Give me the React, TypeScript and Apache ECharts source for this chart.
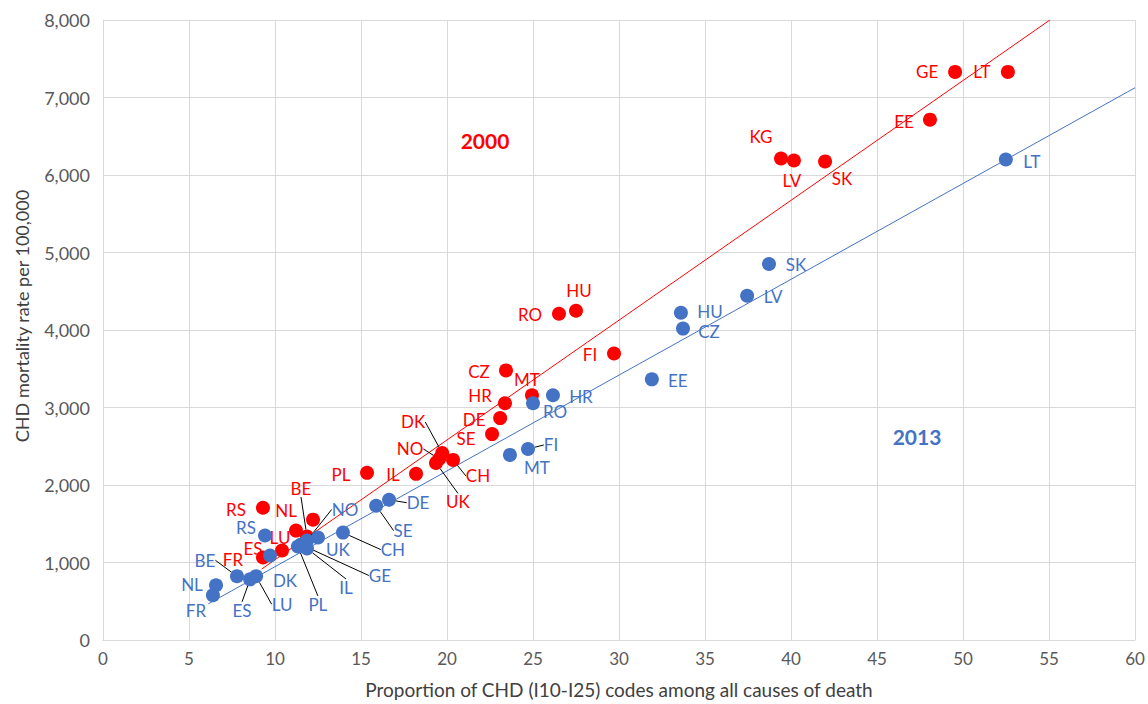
import React, { useEffect, useRef } from "react";
import * as echarts from "echarts";

// ---- data ----
const xTicks = [0, 5, 10, 15, 20, 25, 30, 35, 40, 45, 50, 55, 60];
const yTicks = [0, 1000, 2000, 3000, 4000, 5000, 6000, 7000, 8000];

const countries2000 = ["GE", "LT", "EE", "KG", "LV", "SK", "HU", "RO", "FI", "CZ", "MT", "HR", "DE", "SE", "DK", "NO", "UK", "CH", "PL", "IL", "BE", "NL", "LU", "ES", "FR", "RS"];
const share2000 = [49.54, 52.61, 48.08, 39.42, 40.17, 41.98, 27.5, 26.51, 29.71, 23.43, 24.94, 23.37, 23.09, 22.62, 19.72, 19.54, 19.36, 20.35, 15.35, 18.2, 11.86, 12.21, 11.22, 10.41, 9.3, 9.3];
const rate2000 = [7330, 7330, 6714, 6213, 6187, 6175, 4249, 4210, 3697, 3479, 3158, 3055, 2863, 2657, 2413, 2336, 2285, 2324, 2157, 2144, 1335, 1553, 1412, 1155, 1065, 1707];

const countries2013 = ["LT", "SK", "LV", "HU", "CZ", "EE", "HR", "RO", "FI", "MT", "DE", "SE", "CH", "UK", "NO", "GE", "IL", "PL", "DK", "RS", "BE", "NL", "FR", "ES", "LU"];
const share2013 = [52.49, 38.72, 37.45, 33.6, 33.72, 31.91, 26.16, 25.0, 24.71, 23.66, 16.63, 15.88, 13.95, 12.5, 11.86, 11.51, 11.86, 11.33, 9.71, 9.42, 7.79, 6.57, 6.39, 8.55, 8.9];
const rate2013 = [6200, 4852, 4442, 4223, 4018, 3363, 3158, 3055, 2465, 2388, 1810, 1733, 1386, 1322, 1284, 1232, 1181, 1207, 1091, 1348, 822, 706, 578, 783, 822];

// linear trendlines: [slope, intercept, xStart, xEnd]
const trend2000 = [154.6, -511, 9.23, 55.06];
const trend2013 = [123.6, -290, 6.12, 60];

// ---- layout (label offsets in px relative to the marker centre) ----
const offsets2000: Record<string, number[]> = {
  GE: [-28, 0], LT: [-26, 0], EE: [-26, 2], KG: [-20, -22], LV: [-2, 20], SK: [17, 17],
  HU: [3, -20], RO: [-29, 1], FI: [-24, 1], CZ: [-27, 1], MT: [-5, -16], HR: [-25, -8],
  DE: [-26, 1], SE: [-26, 4], DK: [-29, -31], NO: [-29, -10], UK: [22, 39], CH: [25, 16],
  PL: [-26, 2], IL: [-23, 1], BE: [-6, -48], NL: [-27, -9], LU: [-16, 7], ES: [-29, -2],
  FR: [-30, 2], RS: [-27, 2],
};
const leaders2000 = ["DK", "NO", "UK", "CH", "BE"];
const offsets2013: Record<string, number[]> = {
  LT: [26, 2], SK: [27, 1], LV: [26, 1], HU: [29, -1], CZ: [26, 3], EE: [26, 1], HR: [28, 1],
  RO: [22, 8], FI: [23, -4], MT: [27, 13], DE: [29, 3], SE: [27, 25], CH: [50, 17],
  UK: [20, 12], NO: [38, -31], GE: [79, 31], IL: [39, 39], PL: [20, 58], DK: [15, 25],
  RS: [-19, -8], BE: [-32, -16], NL: [-24, -1], FR: [-17, 15], ES: [-8, 31], LU: [26, 28],
};
const leaders2013 = ["FI", "DE", "SE", "CH", "NO", "GE", "IL", "PL", "BE", "ES", "LU"];

const RED = "#FF0000";
const BLUE = "#4472C4";
const FONT = "Lato";

function buildPoints(names: string[], xs: number[], ys: number[], leaders: string[]) {
  return names.map((n, i) => ({
    name: n,
    value: [xs[i], ys[i]],
    labelLine: {
      show: leaders.includes(n),
      lineStyle: { color: "#000", width: 1 },
    },
  }));
}

function trendData(t: number[]) {
  const [m, b, x0, x1] = t;
  return [
    [x0, m * x0 + b],
    [x1, m * x1 + b],
  ];
}

export default function App() {
  const ref = useRef<HTMLDivElement>(null);
  useEffect(() => {
    if (!ref.current) return;
    const chart = echarts.init(ref.current, null, { renderer: "svg" });
    const layoutFor = (names: string[], offsets: Record<string, number[]>) => (p: any) => {
      const n = names[p.dataIndex];
      const o = offsets[n] || [0, 0];
      const cx = p.rect.x + p.rect.width / 2;
      const cy = p.rect.y + p.rect.height / 2;
      return { x: cx + o[0], y: cy + o[1], align: "center", verticalAlign: "middle" };
    };
    chart.setOption({
      animation: false,
      backgroundColor: "#fff",
      grid: { left: 103, right: 13, top: 20, bottom: 61 },
      xAxis: {
        type: "value",
        min: xTicks[0],
        max: xTicks[xTicks.length - 1],
        interval: xTicks[1] - xTicks[0],
        name: "Proportion of CHD (I10-I25) codes among all causes of death",
        nameLocation: "middle",
        nameGap: 40,
        nameTextStyle: { fontFamily: FONT, fontSize: 19, color: "#404040" },
        axisLine: { show: true, lineStyle: { color: "#D9D9D9" } },
        axisTick: { show: false },
        axisLabel: { fontFamily: FONT, fontSize: 17, color: "#595959", margin: 10 },
        splitLine: { show: true, lineStyle: { color: "#D9D9D9", width: 1 } },
      },
      yAxis: {
        type: "value",
        min: yTicks[0],
        max: yTicks[yTicks.length - 1],
        interval: yTicks[1] - yTicks[0],
        name: "CHD mortality rate per 100,000",
        nameLocation: "middle",
        nameGap: 72,
        nameTextStyle: { fontFamily: FONT, fontSize: 18, color: "#404040", padding: [0, 0, 0, 28] },
        axisLine: { show: true, lineStyle: { color: "#D9D9D9" } },
        axisTick: { show: false },
        axisLabel: {
          fontFamily: FONT,
          fontSize: 18,
          color: "#595959",
          margin: 13,
          formatter: (v: number) => v.toLocaleString("en-US"),
        },
        splitLine: { show: true, lineStyle: { color: "#D9D9D9", width: 1 } },
      },
      series: [
        {
          type: "line",
          data: trendData(trend2000),
          symbol: "none",
          lineStyle: { color: RED, width: 1 },
          silent: true,
          z: 1,
        },
        {
          type: "line",
          data: trendData(trend2013),
          symbol: "none",
          lineStyle: { color: BLUE, width: 1 },
          silent: true,
          z: 1,
        },
        {
          type: "scatter",
          name: "2000",
          data: buildPoints(countries2000, share2000, rate2000, leaders2000),
          symbolSize: 14,
          itemStyle: { color: RED, opacity: 1 },
          label: {
            show: true,
            formatter: "{b}",
            fontFamily: FONT,
            fontSize: 17,
            color: RED,
          },
          labelLayout: layoutFor(countries2000, offsets2000),
          z: 2,
        },
        {
          type: "scatter",
          name: "2013",
          data: buildPoints(countries2013, share2013, rate2013, leaders2013),
          symbolSize: 14,
          itemStyle: { color: BLUE, opacity: 1 },
          label: {
            show: true,
            formatter: "{b}",
            fontFamily: FONT,
            fontSize: 17,
            color: BLUE,
          },
          labelLayout: layoutFor(countries2013, offsets2013),
          z: 3,
        },
      ],
      graphic: [
        {
          type: "text",
          x: 485,
          y: 140,
          style: {
            text: "2000",
            fill: RED,
            font: `bold 21px ${FONT}`,
            align: "center",
            verticalAlign: "middle",
          },
        },
        {
          type: "text",
          x: 917,
          y: 436,
          style: {
            text: "2013",
            fill: BLUE,
            font: `bold 21px ${FONT}`,
            align: "center",
            verticalAlign: "middle",
          },
        },
      ],
    });
    return () => chart.dispose();
  }, []);
  return (
    <div
      ref={ref}
      style={{ position: "fixed", left: 0, top: 0, width: 1148, height: 704, background: "#fff" }}
    />
  );
}
